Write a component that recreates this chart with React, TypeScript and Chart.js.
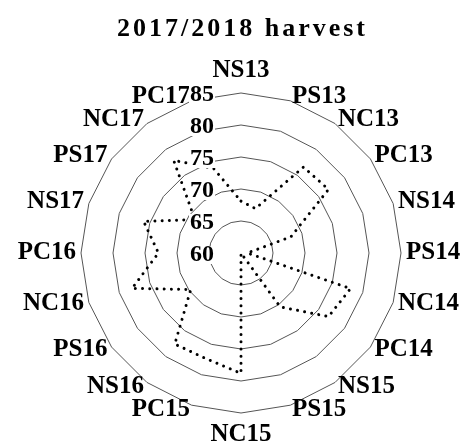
import React, { useEffect, useRef } from 'react';
import { Chart, registerables } from 'chart.js';

Chart.register(...registerables);

const TITLE = '2017/2018 harvest';
const categories = ['NS13', 'PS13', 'NC13', 'PC13', 'NS14', 'PS14', 'NC14', 'PC14', 'NS15', 'PS15', 'NC15', 'PC15', 'NS16', 'PS16', 'NC16', 'PC16', 'NS17', 'PS17', 'NC17', 'PC17'];
const values = [68.1, 67.3, 76.6, 76.9, 68.2, 61.0, 78.0, 76.9, 70.4, 60.0, 78.8, 77.4, 77.6, 69.7, 77.9, 72.9, 76.0, 68.9, 77.9, 73.9];
const tickValues = [60, 65, 70, 75, 80, 85];
const SCALE_MIN = 60;
const SCALE_MAX = 85;
const STEP = 5;

const FONT = '"Liberation Serif", "Times New Roman", serif';

const textPlugin = {
  id: 'customText',
  afterDatasetsDraw(chart: any) {
    const s = chart.scales.r;
    const ctx = chart.ctx as CanvasRenderingContext2D;
    const n = categories.length;
    ctx.save();

    // category labels around the web
    ctx.font = `bold 25px ${FONT}`;
    ctx.fillStyle = '#000000';
    for (let i = 0; i < n; i++) {
      const deg = Math.round((360 / n) * i);
      const p = s.getPointPosition(i, s.drawingArea + 5);
      let x = p.x;
      let y = p.y;
      ctx.textBaseline = 'middle';
      if (deg === 0) {
        ctx.textAlign = 'center';
        y -= 17;
      } else if (deg === 180) {
        ctx.textAlign = 'center';
        y += 17;
      } else if (deg < 180) {
        ctx.textAlign = 'left';
      } else {
        ctx.textAlign = 'right';
      }
      ctx.fillText(categories[i], x, y);
    }

    // value ticks
    ctx.font = `bold 24px ${FONT}`;
    ctx.textAlign = 'center';
    ctx.textBaseline = 'middle';
    tickValues.forEach((v) => {
      const d = s.getDistanceFromCenterForValue(v);
      const x = s.xCenter - 39;
      const y = s.yCenter - d + 2;
      const label = String(v);
      const w = ctx.measureText(label).width;
      ctx.fillStyle = '#ffffff';
      ctx.fillRect(x - w / 2 - 1, y - 9, w + 2, 18);
      ctx.fillStyle = '#000000';
      ctx.fillText(label, x, y);
    });

    // title
    ctx.font = `bold 26px ${FONT}`;
    (ctx as any).letterSpacing = '3px';
    ctx.textBaseline = 'alphabetic';
    ctx.fillStyle = '#000000';
    ctx.fillText(TITLE, s.xCenter + 1.5, 36);
    ctx.restore();
  },
};

export default function App() {
  const ref = useRef<HTMLCanvasElement | null>(null);

  useEffect(() => {
    if (!ref.current) return;
    const chart = new Chart(ref.current, {
      type: 'radar',
      data: {
        labels: categories,
        datasets: [
          {
            data: values,
            borderColor: '#000000',
            backgroundColor: 'rgba(0,0,0,0)',
            borderWidth: 3,
            borderDash: [0.01, 7.2],
            borderCapStyle: 'round',
            fill: false,
            pointRadius: 0,
            tension: 0,
          },
        ],
      },
      options: {
        animation: false,
        responsive: true,
        maintainAspectRatio: false,
        layout: { padding: { top: 93, left: 81, right: 62, bottom: 30 } },
        plugins: {
          legend: { display: false },
          title: { display: false },
          tooltip: { enabled: false },
        },
        scales: {
          r: {
            min: SCALE_MIN,
            max: SCALE_MAX,
            ticks: { display: false, stepSize: STEP },
            grid: { color: '#555555', lineWidth: 1, circular: false },
            angleLines: { display: false },
            pointLabels: { display: false },
          },
        },
      },
      plugins: [textPlugin],
    } as any);
    return () => chart.destroy();
  }, []);

  return (
    <div style={{ position: 'absolute', left: 0, top: 0, width: 463, height: 443, overflow: 'hidden', background: '#fff' }}>
      <div style={{ position: 'relative', width: 463, height: 443 }}>
        <canvas ref={ref} />
      </div>
    </div>
  );
}
